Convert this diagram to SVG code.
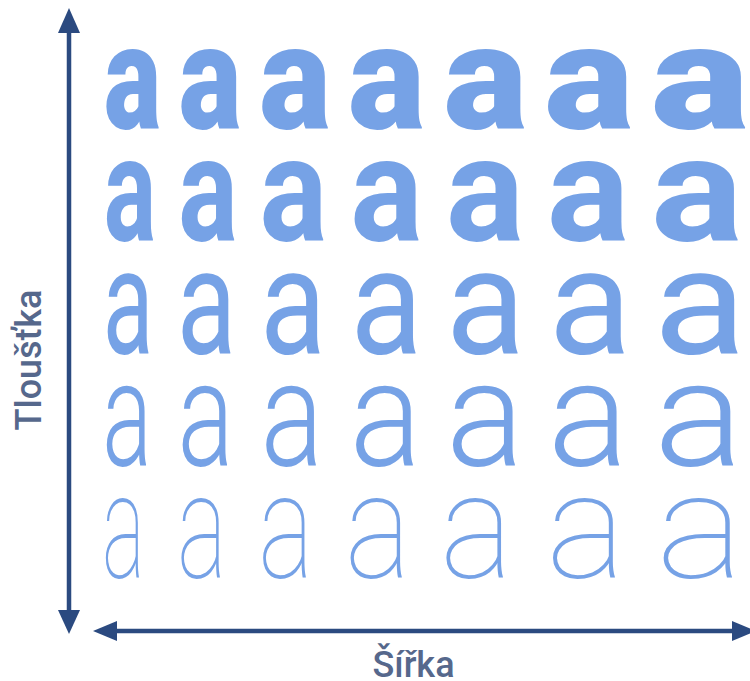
<svg xmlns="http://www.w3.org/2000/svg" width="750" height="681" viewBox="0 0 750 681">
<style>
.g{font-family:Roboto,"Liberation Sans",sans-serif;font-size:148px;fill:#76a2e6;text-anchor:middle}
.w9{font-weight:900}.w7{font-weight:700}.w4{font-weight:400}.w3{font-weight:300}.w1{font-weight:100}
.lbl{font-family:Roboto,"Liberation Sans",sans-serif;font-size:36px;font-weight:500;fill:#56688c;text-anchor:middle}
.ax{stroke:#2b4a80;stroke-width:4.5;fill:none}
.hd{fill:#2b4a80}
</style>
<rect width="750" height="681" fill="#ffffff"/>
<g id="axes">
<line class="ax" x1="69" y1="30" x2="69" y2="612"/>
<polygon class="hd" points="69,8 58,33 80,33"/>
<polygon class="hd" points="69,634 58,610 80,610"/>
<line class="ax" x1="114" y1="631" x2="735" y2="631"/>
<polygon class="hd" points="93,631 117,621 117,641"/>
<polygon class="hd" points="756,631 732,621 732,641"/>
</g>
<g id="labels">
<text class="lbl" transform="translate(41,360) rotate(-90)">Tloušťka</text>
<text class="lbl" x="413.5" y="677">Šířka</text>
</g>
<g id="row1" class="g w9">
<text transform="translate(132.5,129) scale(0.725,1)">a</text>
<text transform="translate(210,129) scale(0.797,1)">a</text>
<text transform="translate(295,129) scale(0.910,1)">a</text>
<text transform="translate(386.5,129) scale(0.981,1)">a</text>
<text transform="translate(485.5,129) scale(1.067,1)">a</text>
<text transform="translate(589,129) scale(1.138,1)">a</text>
<text transform="translate(700,129) scale(1.252,1)">a</text>
</g>
<g id="row2" class="g w7">
<text transform="translate(130,241) scale(0.661,1)">a</text>
<text transform="translate(208,241) scale(0.751,1)">a</text>
<text transform="translate(293.5,241) scale(0.856,1)">a</text>
<text transform="translate(386.5,241) scale(0.916,1)">a</text>
<text transform="translate(485,241) scale(0.991,1)">a</text>
<text transform="translate(588,241) scale(1.051,1)">a</text>
<text transform="translate(697,241) scale(1.171,1)">a</text>
</g>
<g id="row3" class="g w4">
<text transform="translate(128,354) scale(0.63,1)">a</text>
<text transform="translate(206.5,354) scale(0.74,1)">a</text>
<text transform="translate(293,354) scale(0.82,1)">a</text>
<text transform="translate(386.5,354) scale(0.90,1)">a</text>
<text transform="translate(485.5,354) scale(0.995,1)">a</text>
<text transform="translate(590,354) scale(1.04,1)">a</text>
<text transform="translate(700,354) scale(1.165,1)">a</text>
</g>
<g id="row4" class="g w3">
<text transform="translate(127,466) scale(0.626,1)">a</text>
<text transform="translate(205.5,466) scale(0.708,1)">a</text>
<text transform="translate(292,466) scale(0.791,1)">a</text>
<text transform="translate(385.5,466) scale(0.906,1)">a</text>
<text transform="translate(485,466) scale(0.988,1)">a</text>
<text transform="translate(588,466) scale(1.021,1)">a</text>
<text transform="translate(698.5,466) scale(1.137,1)">a</text>
</g>
<g id="row5" class="g w1">
<text transform="translate(123.5,578) scale(0.544,1)">a</text>
<text transform="translate(202,578) scale(0.632,1)">a</text>
<text transform="translate(286,578) scale(0.702,1)">a</text>
<text transform="translate(378,578) scale(0.842,1)">a</text>
<text transform="translate(476.5,578) scale(0.93,1)">a</text>
<text transform="translate(586,578) scale(1.018,1)">a</text>
<text transform="translate(700,578) scale(1.123,1)">a</text>
</g>
</svg>
